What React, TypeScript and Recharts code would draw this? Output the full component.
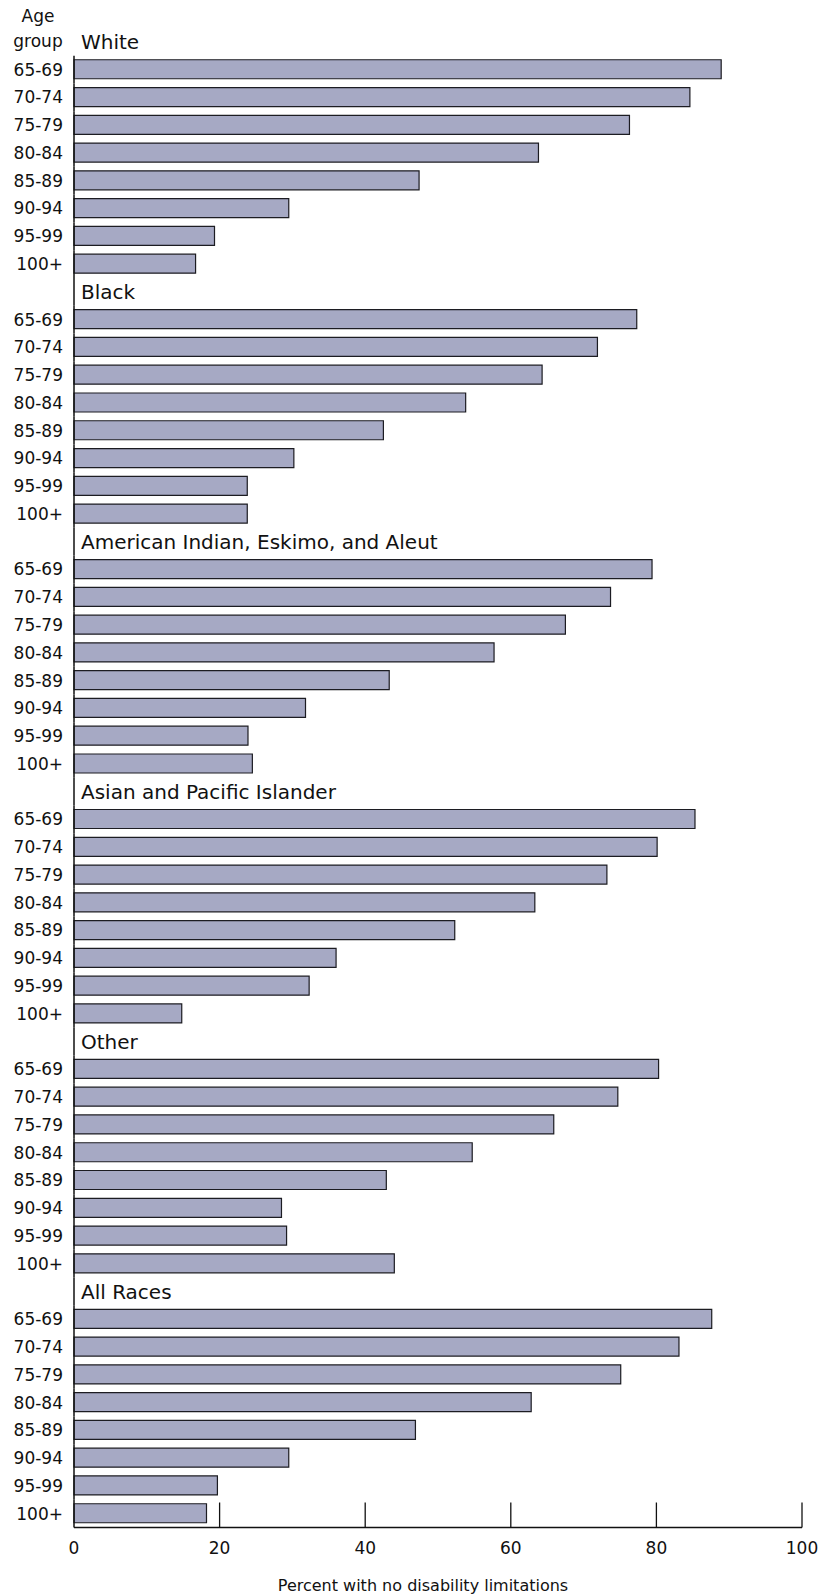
import React from 'react';
import { BarChart, Bar, XAxis, YAxis } from 'recharts';

const groups = [
  'White',
  'Black',
  'American Indian, Eskimo, and Aleut',
  'Asian and Pacific Islander',
  'Other',
  'All Races',
];

const ageGroups = ['65-69', '70-74', '75-79', '80-84', '85-89', '90-94', '95-99', '100+'];

// percent with no disability limitations, one list per race, in ageGroups order
const white = [88.9, 84.6, 76.3, 63.8, 47.4, 29.5, 19.3, 16.7];
const black = [77.3, 71.9, 64.3, 53.8, 42.5, 30.2, 23.8, 23.8];
const americanIndian = [79.4, 73.7, 67.5, 57.7, 43.3, 31.8, 23.9, 24.5];
const asianPacific = [85.3, 80.1, 73.2, 63.3, 52.3, 36.0, 32.3, 14.8];
const other = [80.3, 74.7, 65.9, 54.7, 42.9, 28.5, 29.2, 44.0];
const allRaces = [87.6, 83.1, 75.1, 62.8, 46.9, 29.5, 19.7, 18.2];

const xTicks = [0, 20, 40, 60, 80, 100];

const seriesByGroup = [white, black, americanIndian, asianPacific, other, allRaces];

// one header row per race, then one row per age group
const rows = groups.flatMap((group, g) => [
  { id: group, value: null as number | null },
  ...ageGroups.map((age, i) => ({ id: `${group}|${age}`, value: seriesByGroup[g][i] })),
]);

const FONT = '"DejaVu Sans", sans-serif';

function RowTick(props: any) {
  const { x, y, payload, index } = props;
  const half = payload?.offset || 13.88;
  const [group, age] = String(payload.value).split('|');
  const axisPiece =
    index > 0 ? (
      <line x1={x} x2={x} y1={y - half} y2={y + half} stroke="#111" strokeWidth={1.5} />
    ) : null;
  if (!age) {
    return (
      <g>
        {axisPiece}
        <text x={x + 7} y={y + 7.4} fontFamily={FONT} fontSize={20} fill="#111">
          {group}
        </text>
      </g>
    );
  }
  return (
    <g>
      {axisPiece}
      <text x={x - 11} y={y + 6} textAnchor="end" fontFamily={FONT} fontSize={17} fill="#111">
        {age}
      </text>
    </g>
  );
}

function PercentTick(props: any) {
  const { x, y, payload } = props;
  return (
    <g>
      {payload.value > 0 && (
        <line x1={x} x2={x} y1={y} y2={y - 25} stroke="#111" strokeWidth={1.3} />
      )}
      <text x={x} y={y + 26.5} textAnchor="middle" fontFamily={FONT} fontSize={17} fill="#111">
        {payload.value}
      </text>
    </g>
  );
}

function AgeGroupTitle(props: any) {
  const vb = props.viewBox || { x: 0, y: 28, width: 74 };
  return (
    <g>
      <text x={38} y={vb.y - 6} textAnchor="middle" fontFamily={FONT} fontSize={17} fill="#111">
        Age
      </text>
      <text x={38} y={vb.y + 19} textAnchor="middle" fontFamily={FONT} fontSize={17} fill="#111">
        group
      </text>
    </g>
  );
}

function PercentTitle(props: any) {
  const vb = props.viewBox || { x: 74, y: 1527.5, width: 728 };
  return (
    <text
      x={vb.x + vb.width / 2 - 15}
      y={vb.y + 63.5}
      textAnchor="middle"
      fontFamily={FONT}
      fontSize={16}
      fill="#111"
    >
      Percent with no disability limitations
    </text>
  );
}

export default function App() {
  return (
    <div style={{ position: 'absolute', left: 0, top: 0, background: '#fff' }}>
      <BarChart
        width={819}
        height={1596}
        data={rows}
        layout="vertical"
        margin={{ top: 28, right: 17, bottom: 8.5, left: 0 }}
        barCategoryGap={0}
      >
        <XAxis
          type="number"
          domain={[0, 100]}
          ticks={xTicks}
          height={60}
          tickSize={0}
          tickMargin={0}
          tickLine={false}
          axisLine={{ stroke: '#111', strokeWidth: 1.5 }}
          tick={<PercentTick />}
          label={{ content: <PercentTitle /> }}
        />
        <YAxis
          type="category"
          dataKey="id"
          width={74}
          interval={0}
          tickSize={0}
          tickMargin={0}
          tickLine={false}
          axisLine={false}
          tick={<RowTick />}
          label={{ content: <AgeGroupTitle /> }}
        />
        <Bar
          dataKey="value"
          fill="#a6a9c4"
          stroke="#1c1c22"
          strokeWidth={1.2}
          barSize={19}
          isAnimationActive={false}
        />
      </BarChart>
    </div>
  );
}
